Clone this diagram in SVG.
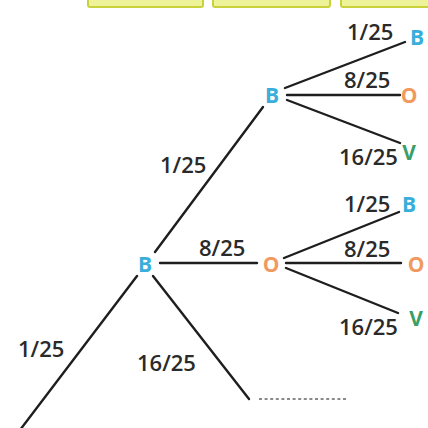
<svg xmlns="http://www.w3.org/2000/svg" width="428" height="428" viewBox="0 0 428 428">
<style>
.bx{fill:#eef39a;stroke:#c9d23a;stroke-width:2}
.ln{stroke:#1e1e1e;stroke-width:2.4;stroke-linecap:round;fill:none}
.dt{stroke:#8a8a8a;stroke-width:2;stroke-dasharray:3,2.6;fill:none}
.lb{font-family:"Open Sans","Liberation Sans",sans-serif;font-size:22px;font-weight:600;fill:#2a2a2a}
.nd{font-family:"Open Sans","Liberation Sans",sans-serif;font-size:21px;font-weight:700;text-anchor:middle}
.b{fill:#39aedb}.o{fill:#f09a60}.v{fill:#3a9e68}
</style>
<rect width="428" height="428" fill="#ffffff"/>
<g id="header">
<rect class="bx" x="88" y="-8" width="115" height="15" rx="2"/>
<rect class="bx" x="213" y="-8" width="117" height="15" rx="2"/>
<rect class="bx" x="341" y="-8" width="95" height="15" rx="2"/>
</g>
<g id="connectors">
<line class="ln" x1="137" y1="276" x2="20" y2="430"/>
<line class="ln" x1="155" y1="252" x2="263" y2="107"/>
<line class="ln" x1="160" y1="263" x2="257" y2="263"/>
<line class="ln" x1="153" y1="276" x2="249" y2="399"/>
<line class="dt" x1="259" y1="399" x2="346" y2="399"/>
<line class="ln" x1="285" y1="88" x2="405" y2="42"/>
<line class="ln" x1="287" y1="95" x2="400" y2="95"/>
<line class="ln" x1="287" y1="100" x2="400" y2="143"/>
<line class="ln" x1="284" y1="258" x2="399" y2="212"/>
<line class="ln" x1="286" y1="263" x2="401" y2="263"/>
<line class="ln" x1="286" y1="268" x2="398" y2="313"/>
</g>
<g id="labels">
<text class="lb" x="347" y="40">1/25</text>
<text class="lb" x="344" y="88">8/25</text>
<text class="lb" x="339" y="165">16/25</text>
<text class="lb" x="160" y="173">1/25</text>
<text class="lb" x="344" y="212">1/25</text>
<text class="lb" x="199" y="256">8/25</text>
<text class="lb" x="344" y="257">8/25</text>
<text class="lb" x="339" y="335">16/25</text>
<text class="lb" x="18" y="357">1/25</text>
<text class="lb" x="137" y="371">16/25</text>
</g>
<g id="n-root"><text class="nd b" x="145" y="272">B</text></g>
<g id="n-B1"><text class="nd b" x="272" y="103">B</text></g>
<g id="n-O1"><text class="nd o" x="271" y="272">O</text></g>
<g id="n-B1B"><text class="nd b" x="417" y="45">B</text></g>
<g id="n-B1O"><text class="nd o" x="409" y="103">O</text></g>
<g id="n-B1V"><text class="nd v" x="409" y="160">V</text></g>
<g id="n-O1B"><text class="nd b" x="409" y="212">B</text></g>
<g id="n-O1O"><text class="nd o" x="416" y="272">O</text></g>
<g id="n-O1V"><text class="nd v" x="416" y="326">V</text></g>
</svg>
